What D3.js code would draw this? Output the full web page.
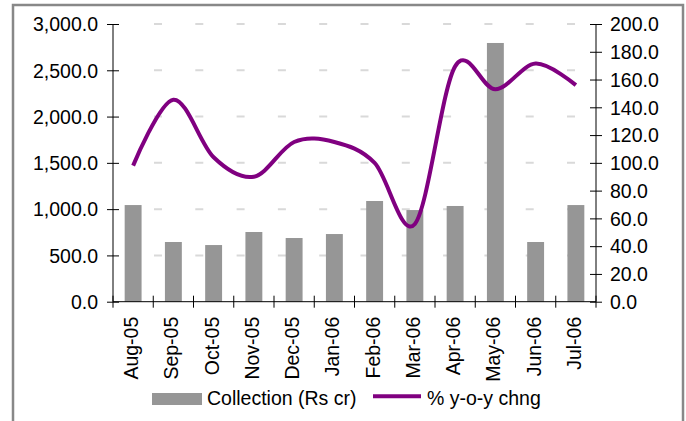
<!DOCTYPE html>
<html><head><meta charset="utf-8">
<script src="https://cdn.jsdelivr.net/npm/d3@7/dist/d3.min.js"></script>
<style>
html,body{margin:0;padding:0;background:#fff;}
svg{display:block;}
text{font-family:"Liberation Sans",Arial,sans-serif;fill:#000;}
</style></head>
<body>
<svg id="chart" width="686" height="421"></svg>
<script>
const categories = ["Aug-05","Sep-05","Oct-05","Nov-05","Dec-05","Jan-06","Feb-06","Mar-06","Apr-06","May-06","Jun-06","Jul-06"];
const collection = [1044, 645, 612, 753, 688, 731, 1088, 990, 1034, 2795, 645, 1044];
const yoyChange = [98, 145.5, 104, 90, 115, 115, 100, 56, 169.5, 153, 171.5, 156];
const leftTicks = [0, 500, 1000, 1500, 2000, 2500, 3000];
const rightTicks = [0, 20, 40, 60, 80, 100, 120, 140, 160, 180, 200];
const seriesNames = ["Collection (Rs cr)", "% y-o-y chng"];

const FS = 19.5;
const svg = d3.select("#chart");
const L = 113, R = 596, T = 24, B = 301.7;

svg.append("rect").attr("x",0).attr("y",0).attr("width",686).attr("height",421).attr("fill","#fff");
svg.append("rect").attr("x",13).attr("y",5).attr("width",670).attr("height",440)
  .attr("fill","none").attr("stroke","#888").attr("stroke-width",2.5);

const x = d3.scaleBand().domain(categories).range([L, R]).padding(0);
const yL = d3.scaleLinear().domain([0, 3000]).range([B, T]);
const yR = d3.scaleLinear().domain([0, 200]).range([B, T]);

// gridlines
svg.append("g").selectAll("line").data(leftTicks.filter(d => d > 0)).join("line")
  .attr("x1", L + 41).attr("x2", R)
  .attr("y1", d => yL(d)).attr("y2", d => yL(d))
  .attr("stroke", "#d9d9d9").attr("stroke-width", 2).attr("stroke-dasharray", "8 33.3");

// bars
const bw = x.bandwidth() * 0.42;
svg.append("g").selectAll("rect").data(categories).join("rect")
  .attr("x", (d) => x(d) + x.bandwidth()/2 - bw/2)
  .attr("width", bw)
  .attr("y", (d,i) => yL(collection[i]))
  .attr("height", (d,i) => yL(0) - yL(collection[i]))
  .attr("fill", "#969696");

// line
const line = d3.line()
  .x((d,i) => x(categories[i]) + x.bandwidth()/2)
  .y(d => yR(d))
  .curve(d3.curveCardinal.tension(0));
svg.append("path").datum(yoyChange).attr("d", line)
  .attr("fill","none").attr("stroke","#800080").attr("stroke-width",4).attr("stroke-linejoin","round");

// left axis
const gL = svg.append("g").attr("transform", `translate(${L},0)`)
  .call(d3.axisLeft(yL).tickValues(leftTicks).tickFormat(d3.format(",.1f")).tickSize(6).tickPadding(9));
gL.select(".domain").attr("stroke","#000").attr("d", `M0,${T}V${B}`);
gL.selectAll(".tick line").attr("x1", -6).attr("x2", 6).attr("stroke","#000");
gL.selectAll(".tick text").style("font-size", FS + "px").attr("x", -15).attr("dy","0.35em");

// right axis
const gR = svg.append("g").attr("transform", `translate(${R},0)`)
  .call(d3.axisRight(yR).tickValues(rightTicks).tickFormat(d3.format(".1f")).tickSize(6));
gR.select(".domain").attr("stroke","#000").attr("d", `M0,${T}V${B}`);
gR.selectAll(".tick line").attr("x1", -6).attr("x2", 6).attr("stroke","#000");
gR.selectAll(".tick text").style("font-size", FS + "px").attr("x", 14).attr("dy","0.35em");

// bottom axis
const gB = svg.append("g").attr("transform", `translate(0,${B})`);
gB.append("line").attr("x1", L).attr("x2", R).attr("y1", 0).attr("y2", 0).attr("stroke","#000");
const bounds = categories.map(c => x(c)).concat([R]);
gB.selectAll("line.tk").data(bounds).join("line").attr("class","tk")
  .attr("x1", d => d).attr("x2", d => d).attr("y1", -6).attr("y2", 6).attr("stroke","#000");
gB.selectAll("text").data(categories).join("text")
  .attr("transform", d => `translate(${x(d) + x.bandwidth()/2},15) rotate(-90)`)
  .attr("text-anchor","end").attr("dy", "0.26em")
  .style("font-size", FS + "px").text(d => d);

// legend
const lg = svg.append("g");
lg.append("rect").attr("x",152).attr("y",393).attr("width",50).attr("height",12).attr("fill","#969696");
lg.append("text").attr("x",207).attr("y",405).style("font-size", FS + "px").text(seriesNames[0]);
lg.append("line").attr("x1",373).attr("x2",421).attr("y1",396.3).attr("y2",396.3)
  .attr("stroke","#800080").attr("stroke-width",4);
lg.append("text").attr("x",427).attr("y",405).style("font-size", FS + "px").text(seriesNames[1]);
</script>
</body></html>
